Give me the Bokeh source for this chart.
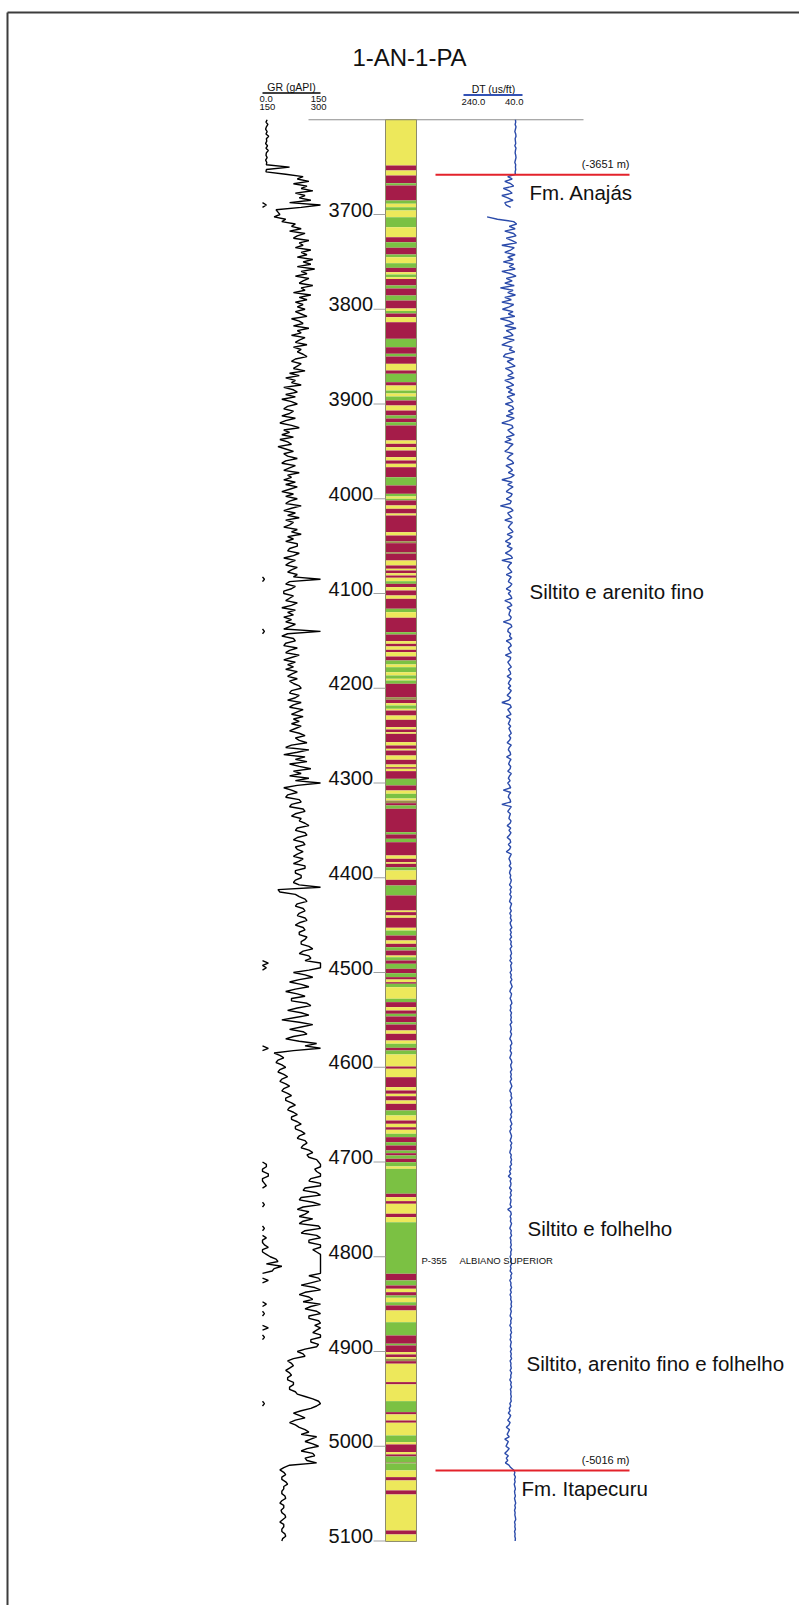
import numpy as np
from bokeh.plotting import figure
from bokeh.models import Range1d
from bokeh.core.properties import value
from bokeh.embed import file_html
from bokeh.resources import INLINE

# ---------------- data ----------------
well_name = "1-AN-1-PA"
log_top, log_step = 3600, 2.5   # sampling grid of the curves (m)

# GR (gAPI), one value every 2.5 m from 3600 m to 5100 m (20 values per row = 50 m)
gr_api = [
    12, 9, 14, 10, 8, 12, 9, 16, 10, 11, 8, 13, 9, 15, 10, 9, 12, 8, 11, 10,                       # 3600
    70, 10, 9, 60, 105, 90, 120, 80, 115, 100, 130, 85, 110, 95, 125, 70, 160, 100, 35, 40,        # 3650
    45, 30, 60, 50, 85, 75, 100, 70, 110, 90, 80, 120, 95, 105, 85, 125, 100, 115, 90, 130,        # 3700
    105, 125, 90, 135, 100, 115, 85, 120, 105, 95, 130, 100, 110, 80, 125, 95, 115, 85, 105, 90,   # 3750
    110, 85, 100, 115, 75, 95, 105, 80, 120, 90, 100, 75, 110, 95, 85, 115, 80, 100, 90, 105,      # 3800
    115, 85, 75, 100, 90, 80, 110, 70, 95, 60, 85, 75, 100, 55, 80, 90, 60, 85, 50, 75,            # 3850
    90, 65, 55, 80, 70, 50, 85, 60, 45, 75, 95, 55, 70, 50, 80, 45, 65, 75, 40, 60,                # 3900
    80, 55, 65, 90, 60, 50, 85, 70, 55, 95, 65, 75, 55, 85, 60, 90, 70, 50, 80, 60,                # 3950
    90, 70, 60, 100, 75, 55, 85, 65, 95, 60, 80, 70, 55, 90, 75, 100, 65, 80, 60, 90,              # 4000
    90, 70, 65, 95, 80, 55, 85, 70, 60, 90, 75, 65, 90, 80, 155, 70, 60, 85, 75, 55,               # 4050
    55, 80, 70, 60, 90, 75, 50, 85, 65, 80, 55, 75, 60, 85, 70, 55, 155, 65, 50, 80,               # 4100
    85, 60, 55, 90, 70, 60, 95, 75, 55, 85, 65, 80, 60, 90, 75, 65, 90, 70, 80, 95,                # 4150
    100, 75, 70, 95, 85, 65, 100, 80, 70, 105, 90, 75, 105, 80, 95, 75, 100, 85, 70, 95,           # 4200
    110, 85, 95, 115, 75, 60, 120, 90, 55, 110, 85, 115, 70, 95, 125, 80, 100, 70, 120, 85,        # 4250
    150, 90, 55, 75, 90, 65, 60, 95, 100, 75, 70, 105, 110, 85, 75, 100, 95, 110, 120, 90,         # 4300
    85, 110, 115, 90, 80, 105, 110, 85, 90, 105, 90, 80, 105, 95, 80, 110, 110, 85, 85, 100,       # 4350
    100, 85, 80, 95, 150, 40, 45, 85, 95, 110, 115, 90, 85, 105, 110, 95, 90, 110, 115, 95,        # 4400
    85, 105, 110, 95, 95, 115, 110, 100, 100, 120, 130, 105, 95, 120, 125, 110, 165, 150, 160, 120,  # 4450
    80, 110, 130, 95, 70, 100, 120, 85, 60, 90, 110, 75, 75, 115, 125, 90, 65, 100, 120, 85,       # 4500
    50, 95, 130, 100, 70, 105, 115, 80, 60, 95, 140, 110, 165, 80, 30, 45, 55, 40, 35, 50,         # 4550
    60, 45, 40, 55, 65, 50, 45, 60, 70, 55, 50, 65, 75, 60, 60, 75, 85, 70, 65, 80,                # 4600
    90, 75, 75, 90, 100, 85, 85, 100, 110, 95, 90, 110, 115, 105, 100, 120, 130, 115, 120, 140,    # 4650
    145, 160, 160, 135, 140, 165, 165, 125, 120, 155, 160, 110, 105, 140, 150, 100, 95, 130, 155, 105,  # 4700
    90, 120, 110, 95, 130, 105, 95, 145, 155, 110, 100, 140, 160, 120, 120, 155, 165, 130, 140, 160,    # 4750
    170, 185, 190, 160, 200, 180, 175, 150, 120, 145, 165, 125, 100, 135, 150, 110, 95, 120, 130, 105,  # 4800
    160, 125, 110, 140, 155, 120, 120, 145, 150, 135, 165, 140, 130, 150, 155, 125, 125, 145, 140, 110, # 4850
    90, 105, 110, 80, 65, 75, 80, 70, 60, 70, 75, 65, 65, 80, 80, 70, 70, 85, 90, 110,             # 4900
    130, 145, 155, 140, 125, 100, 80, 95, 110, 85, 70, 85, 95, 110, 120, 100, 140, 125, 110, 130,  # 4950
    145, 115, 100, 130, 135, 110, 115, 140, 70, 55, 45, 55, 60, 50, 50, 60, 65, 55, 55, 50,        # 5000
    50, 58, 60, 50, 45, 55, 55, 48, 50, 58, 60, 52, 45, 55, 55, 50, 50, 58, 60, 52,                # 5050
    50,                                                                                            # 5100
]

nan = float("nan")
# DT (us/ft), one value every 2.5 m from 3600 m to 5100 m (no data ~3694-3701 m)
dt_usft = [
    64, 63, 65, 62, 64, 66, 63, 62, 65, 64, 63, 66, 62, 64, 65, 63, 62, 64, 66, 63,      # 3600
    64, 63, 65, 64, 90, 75, 100, 80, 70, 105, 85, 75, 110, 90, 72, 100, 95, 80, nan, nan,  # 3650
    nan, 160, 125, 70, 60, 85, 65, 100, 70, 62, 95, 75, 60, 110, 68, 80, 100, 65, 90, 72,  # 3700
    105, 70, 85, 65, 110, 80, 62, 95, 75, 100, 68, 115, 72, 90, 64, 100, 78, 110, 70, 85,  # 3750
    108, 72, 88, 66, 115, 85, 70, 100, 62, 95, 80, 72, 105, 68, 90, 110, 75, 85, 66, 98,   # 3800
    105, 70, 92, 78, 65, 98, 80, 72, 90, 68, 100, 82, 70, 95, 75, 88, 66, 92, 80, 72,      # 3850
    98, 75, 70, 88, 72, 95, 68, 85, 110, 76, 72, 90, 80, 68, 95, 78, 100, 72, 82, 88,      # 3900
    100, 72, 85, 92, 76, 70, 96, 82, 74, 88, 68, 80, 110, 75, 90, 72, 85, 95, 75, 80,      # 3950
    95, 78, 82, 115, 80, 72, 90, 84, 76, 100, 74, 82, 88, 79, 72, 92, 75, 85, 98, 80,      # 4000
    92, 75, 84, 98, 80, 74, 110, 77, 85, 90, 82, 76, 95, 78, 84, 88, 76, 82, 95, 80,       # 4050
    88, 80, 76, 100, 82, 76, 92, 80, 84, 86, 78, 82, 105, 80, 76, 88, 90, 80, 84, 76,      # 4100
    95, 82, 78, 88, 84, 78, 98, 80, 82, 90, 84, 78, 88, 82, 80, 92, 78, 84, 88, 80,        # 4150
    88, 78, 84, 92, 80, 86, 110, 82, 78, 90, 84, 79, 95, 81, 84, 88, 80, 86, 82, 78,       # 4200
    86, 80, 84, 92, 78, 85, 88, 82, 80, 94, 79, 84, 87, 80, 82, 90, 78, 84, 88, 82,        # 4250
    90, 84, 80, 105, 80, 86, 88, 82, 80, 110, 78, 84, 90, 81, 84, 86, 79, 82, 92, 80,      # 4300
    86, 79, 84, 92, 82, 80, 88, 80, 84, 95, 78, 82, 86, 82, 80, 85, 78, 82, 84, 80,        # 4350
    82, 78, 80, 84, 77, 82, 79, 83, 78, 81, 84, 77, 80, 82, 78, 83, 79, 81, 77, 82,        # 4400
    80, 76, 82, 78, 81, 77, 83, 78, 80, 76, 82, 79, 77, 81, 78, 83, 76, 80, 79, 77,        # 4450
    82, 78, 80, 76, 81, 78, 75, 80, 83, 77, 79, 82, 78, 76, 81, 79, 82, 77, 80, 78,        # 4500
    80, 76, 82, 79, 78, 81, 77, 80, 83, 78, 76, 81, 79, 82, 77, 80, 83, 78, 76, 80,        # 4550
    79, 76, 81, 78, 80, 77, 82, 79, 76, 80, 83, 78, 79, 76, 81, 80, 77, 82, 78, 76,        # 4600
    80, 77, 82, 79, 76, 81, 78, 83, 80, 77, 79, 82, 76, 80, 78, 81, 83, 78, 80, 77,        # 4650
    80, 77, 83, 79, 84, 80, 88, 78, 82, 79, 80, 84, 77, 81, 78, 83, 79, 80, 82, 77,        # 4700
    90, 80, 78, 82, 79, 81, 77, 80, 83, 78, 80, 77, 82, 79, 80, 78, 81, 77, 80, 79,        # 4750
    82, 78, 80, 77, 81, 79, 82, 76, 80, 78, 83, 79, 80, 77, 81, 78, 82, 79, 80, 77,        # 4800
    79, 77, 81, 78, 80, 82, 77, 80, 79, 83, 78, 80, 77, 81, 79, 82, 78, 80, 81, 77,        # 4850
    81, 78, 80, 77, 82, 79, 80, 78, 82, 77, 80, 79, 83, 78, 80, 77, 81, 79, 80, 78,        # 4900
    80, 78, 83, 80, 85, 82, 88, 80, 84, 90, 82, 86, 95, 84, 88, 92, 85, 100, 88, 92,       # 4950
    96, 85, 92, 100, 88, 95, 90, 98, 86, 80, 70, 66, 68, 64, 67, 65, 68, 66, 64, 67,       # 5000
    66, 64, 67, 65, 63, 66, 64, 67, 65, 66, 64, 63, 67, 65, 66, 64, 67, 65, 66, 64,        # 5050
    65,                                                                                    # 5100
]

# Lithology column: top depth of each bed (m) and its class
litho_top = [
    3600, 3648.3, 3653.6, 3658.8, 3667.0, 3669.4, 3685.2, 3688.7, 3692.3, 3695.8,
    3702.8, 3713.4, 3724.0, 3729.2, 3735.1, 3742.2, 3745.1, 3751.4, 3756.3, 3760.9,
    3763.3, 3766.2, 3768.1, 3774.9, 3778.1, 3785.5, 3790.8, 3799.2, 3801.8, 3804.5,
    3808.4, 3813.7, 3831.2, 3840.1, 3847.0, 3849.9, 3857.6, 3864.6, 3868.1, 3877.0,
    3880.5, 3885.8, 3888.9, 3892.1, 3896.3, 3901.6, 3906.9, 3912.1, 3915.3, 3919.2,
    3922.7, 3938.5, 3942.0, 3945.6, 3949.1, 3956.1, 3959.6, 3963.1, 3966.7, 3977.3,
    3986.0, 3994.8, 3997.6, 4000.0, 4001.8, 4007.1, 4010.6, 4015.6, 4017.7, 4035.3,
    4038.8, 4044.8, 4046.9, 4056.4, 4058.1, 4065.2, 4070.4, 4073.9, 4075.7, 4078.6,
    4081.0, 4083.4, 4087.0, 4089.8, 4093.3, 4096.8, 4102.1, 4105.6, 4116.1, 4119.7,
    4125.6, 4140.8, 4143.3, 4150.3, 4153.1, 4155.9, 4159.4, 4161.9, 4166.5, 4170.7,
    4174.9, 4177.8, 4183.1, 4186.5, 4190.0, 4191.8, 4195.3, 4209.4, 4212.2, 4215.8,
    4218.2, 4221.7, 4223.5, 4228.8, 4233.3, 4241.1, 4243.5, 4246.4, 4248.1, 4256.9,
    4260.4, 4263.9, 4265.7, 4271.0, 4275.5, 4280.5, 4283.3, 4285.0, 4287.5, 4295.6,
    4302.6, 4307.9, 4311.4, 4316.4, 4318.5, 4321.3, 4323.7, 4327.2, 4351.9, 4354.3,
    4358.9, 4362.5, 4376.5, 4380.0, 4383.6, 4385.3, 4388.9, 4392.3, 4402.2, 4408.2,
    4418.7, 4434.6, 4436.3, 4439.8, 4442.3, 4452.8, 4455.7, 4461.0, 4466.2, 4469.7,
    4473.3, 4476.8, 4482.1, 4483.9, 4487.3, 4490.8, 4496.1, 4500.7, 4504.9, 4507.4,
    4510.2, 4511.9, 4515.5, 4527.7, 4531.3, 4536.6, 4540.1, 4543.6, 4546.4, 4552.5,
    4554.9, 4561.2, 4564.7, 4571.8, 4575.2, 4579.5, 4582.3, 4586.5, 4599.2, 4601.6,
    4610.5, 4621.0, 4624.5, 4628.0, 4630.6, 4635.1, 4638.6, 4645.6, 4650.9, 4656.2,
    4659.7, 4663.3, 4666.0, 4670.2, 4673.8, 4679.1, 4682.6, 4687.9, 4690.7, 4693.1,
    4696.6, 4700.2, 4704.7, 4707.2, 4733.5, 4737.1, 4741.3, 4744.1, 4754.6, 4758.2,
    4763.5, 4818.0, 4825.0, 4830.3, 4833.8, 4837.4, 4840.9, 4843.3, 4848.0, 4851.4,
    4856.7, 4869.1, 4883.1, 4891.8, 4893.6, 4900.7, 4903.1, 4906.0, 4907.7, 4910.2,
    4912.9, 4932.3, 4934.7, 4952.4, 4964.0, 4966.4, 4972.8, 4975.2, 4988.6, 4995.7,
    4998.1, 5006.2, 5008.6, 5010.8, 5016.8, 5018.1, 5025.5, 5032.6, 5036.1, 5046.6,
    5050.9, 5088.9, 5093.1,
]
litho_code = list(
    "YRYRGRGYGY" "GYRGRGYGRY" "GYRGRGRYGR" "YRGRGRYRGR" "YGYGRYRGRG"
    "RYRYRYRYRG" "RGYGRYRYRY" "RORORYRYRY" "RYGRYRYRGY" "RGRYRYRYRG"
    "YGYGYGRORY" "GYRYRYRYRY" "RYRYRYRYRG" "RYGYORGRGR" "GRYRYRGYRG"
    "RYRYRYGRYR" "GRYGRGRGRY" "RGYGRYRGRG" "RYRYGRGYRY" "RYRYRYRGYR"
    "YRYGRGRGRG" "RGYGRYRYRY" "GRGRYRGYGR" "YGRGRYRYOR" "YRYGRYRYGY"
    "RYRGOGYRYR" "YRY"
)
litho_base = 5100.5
litho_colors = {"Y": "#EDE85B", "R": "#A51C49", "G": "#7BC143", "O": "#9A8F4F"}

depth_ticks = [3700, 3800, 3900, 4000, 4100, 4200, 4300, 4400, 4500,
               4600, 4700, 4800, 4900, 5000, 5100]

fm_depth = [3658.0, 5025.5]
fm_elev = ["(-3651 m)", "(-5016 m)"]
fm_name = ["Fm. Anajás", "Fm. Itapecuru"]

unit_text = ["Siltito e arenito fino", "Siltito e folhelho",
             "Siltito, arenito fino e folhelho"]

bio_code = "P-355"
bio_age = "ALBIANO SUPERIOR"

gr_title = "GR (gAPI)"
gr_scale_left = ["0.0", "150"]
gr_scale_right = ["150", "300"]
gr_min, gr_max = 0.0, 150.0
dt_title = "DT (us/ft)"
dt_scale = ["240.0", "40.0"]
dt_left, dt_right = 240.0, 40.0

# ---------------- layout ----------------
W, H = 799, 1605
PX_PER_M = 0.9475          # vertical scale (px per metre)


def depth_at(sy):
    """depth at a page y position (layout helper)"""
    return 3700 + (sy - 214) / PX_PER_M


def lin_range(v0, sx0, v1, sx1):
    k = (v1 - v0) / (sx1 - sx0)
    return Range1d(start=v0 - sx0 * k, end=v0 + (W - sx0) * k)


D_TOP = depth_at(0)
D_BOT = depth_at(H)

p = figure(width=W, height=H, x_range=Range1d(0, W),
           y_range=Range1d(D_BOT, D_TOP),
           x_axis_type=None, y_axis_type=None,
           output_backend="svg", toolbar_location=None,
           min_border=0, min_border_left=0, min_border_right=0,
           min_border_top=0, min_border_bottom=0)
p.grid.visible = False
p.outline_line_color = None
p.background_fill_color = "white"
p.border_fill_color = "white"
p.extra_x_ranges = {"gr": lin_range(gr_min, 262, gr_max, 320),
                    "dt": lin_range(dt_left, 463, dt_right, 522)}

FONT = value("Liberation Sans")
TXT = "#111111"


def label(x, sy, txt, size, align="left"):
    p.text(x=[x], y=[depth_at(sy)], text=[txt], text_font=FONT,
           text_font_size=size, text_align=align, text_baseline="middle",
           text_color=TXT)


# page frame
p.line(x=[7, 7], y=[depth_at(12), D_BOT], line_color="#3c3c3c", line_width=2)
p.line(x=[7, W], y=[depth_at(12), depth_at(12)], line_color="#3c3c3c", line_width=2)

# title
label(409, 57, well_name, "24px", "center")

# GR header
label(291, 86, gr_title, "10.5px", "center")
p.segment(x0=[gr_min], x1=[gr_max], y0=[depth_at(92.5)], y1=[depth_at(92.5)],
          x_range_name="gr", line_color="black", line_width=1.5)
label(259, 98, gr_scale_left[0], "9.5px", "left")
label(259, 106.5, gr_scale_left[1], "9.5px", "left")
label(326, 98, gr_scale_right[0], "9.5px", "right")
label(326, 106.5, gr_scale_right[1], "9.5px", "right")

# DT header
label(493, 88, dt_title, "10.5px", "center")
p.segment(x0=[dt_left], x1=[dt_right], y0=[depth_at(94.5)], y1=[depth_at(94.5)],
          x_range_name="dt", line_color="#3352B5", line_width=2)
label(461, 101, dt_scale[0], "9.5px", "left")
label(523, 101, dt_scale[1], "9.5px", "right")

# top-of-log line
p.segment(x0=[308], x1=[583], y0=[litho_top[0]], y1=[litho_top[0]],
          line_color="#8c8c8c", line_width=1)

# lithology column
n = min(len(litho_top), len(litho_code))
tops = litho_top[:n]
bots = litho_top[1:n] + [litho_base]
cols = [litho_colors[c] for c in litho_code[:n]]
p.quad(left=385, right=416, top=tops, bottom=bots, fill_color=cols,
       line_color=None)
p.quad(left=[385], right=[416], top=[litho_top[0]], bottom=[litho_base],
       fill_color=None, line_color="#8d8b6c", line_width=1)

# depth ticks and labels
p.segment(x0=373, x1=385, y0=depth_ticks, y1=depth_ticks,
          line_color="#a0a0a0", line_width=1)
p.text(x=372.5, y=depth_ticks, text=[str(d) for d in depth_ticks],
       text_font=FONT, text_font_size="20px", text_align="right",
       text_baseline="middle", text_color=TXT, y_offset=-5)

# GR curve (wrapped display: values above 150 re-plotted from the left)
depth = log_top + log_step * np.arange(len(gr_api))
gr = np.array(gr_api, dtype=float)
gr_main = np.clip(gr, gr_min, gr_max)
over = gr > gr_max
near = over.copy()
near[1:] |= over[:-1]
near[:-1] |= over[1:]
gr_wrap = np.where(near, np.clip(gr - gr_max, 0, gr_max), np.nan)
p.line(x=gr_main, y=depth, x_range_name="gr", line_color="black", line_width=1.4)
p.line(x=gr_wrap, y=depth, x_range_name="gr", line_color="black", line_width=1.4)

# DT curve
dt_depth = log_top + log_step * np.arange(len(dt_usft))
p.line(x=np.array(dt_usft, dtype=float), y=dt_depth, x_range_name="dt",
       line_color="#2B4BAA", line_width=1.4)

# formation tops
p.segment(x0=435, x1=629, y0=fm_depth, y1=fm_depth,
          line_color="#E3222B", line_width=2)
p.text(x=629, y=fm_depth, text=fm_elev, text_font=FONT,
       text_font_size="11px", text_align="right", text_baseline="middle",
       text_color=TXT, y_offset=-10.5)
p.text(x=[529, 521], y=fm_depth, text=fm_name, text_font=FONT,
       text_font_size="20.5px", text_align="left", text_baseline="middle",
       text_color=TXT, y_offset=[17.5, 18.5])

# unit descriptions
label(529, 591, unit_text[0], "20.5px")
label(527, 1227.5, unit_text[1], "20.5px")
label(526, 1363, unit_text[2], "20.5px")

# biostratigraphic marker
label(421, 1260, bio_code, "9.5px")
label(459, 1260, bio_age, "9.5px")

open("out.html", "w").write(file_html(p, INLINE))
